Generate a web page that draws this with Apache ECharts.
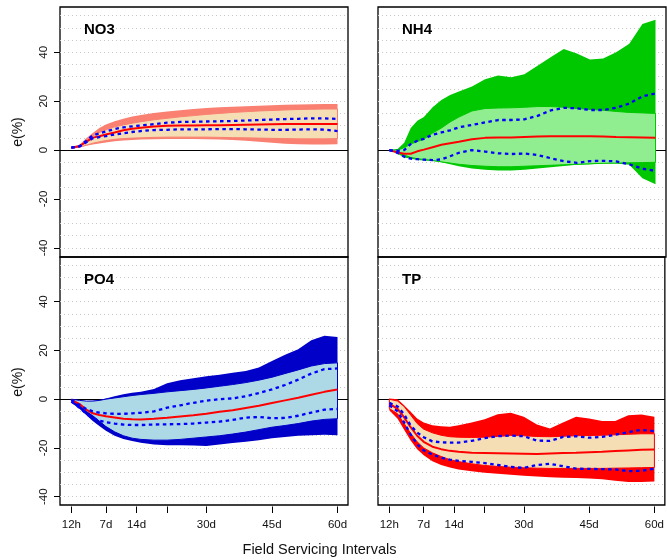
<!DOCTYPE html>
<html>
<head>
<meta charset="utf-8">
<script src="https://cdn.jsdelivr.net/npm/echarts@6/dist/echarts.min.js"></script>
<style>
html,body{margin:0;padding:0;background:#fff}
#chart{width:667px;height:560px}
</style>
</head>
<body>
<div id="chart"></div>
<script>
//----------------------------
//  data
//----------------------------
// sample positions in days; the "12h" point sits at -0.9 on this scale
var xs       = [-0.9, 1, 2.5, 4, 5.5, 7, 9, 11, 13, 15, 18, 21, 24, 27, 30, 33, 36, 39, 42, 45, 48, 51, 54, 57, 60];
var tickPos  = [-0.9, 7, 14, 21, 30, 45, 60];
var tickText = ['12h', '7d', '14d', '', '30d', '45d', '60d'];
var yLabels  = [-40, -20, 0, 20, 40];
var yGrid    = [-40, -35, -30, -25, -20, -15, -10, -5, 5, 10, 15, 20, 25, 30, 35, 40, 45, 50, 55];
var panelNames = ['NO3', 'NH4', 'PO4', 'TP'];

// NO3
var no3OuterHi = [1, 2.3, 4.8, 7, 9, 10.5, 11.8, 12.8, 13.7, 14.3, 15.2, 15.8, 16.3, 16.8, 17.2, 17.5, 17.7, 17.9, 18.1, 18.3, 18.5, 18.6, 18.7, 18.8, 18.8];
var no3InnerHi = [1, 1.8, 3.8, 5.8, 7.2, 8.3, 9.5, 10.3, 11, 11.6, 12.4, 13, 13.6, 14.1, 14.6, 15, 15.4, 15.7, 16, 16.2, 16.4, 16.6, 16.7, 16.8, 16.8];
var no3InnerLo = [0.7, 1.2, 2, 2.8, 3.4, 3.9, 4.4, 4.7, 4.9, 5, 5.2, 5.3, 5.3, 5.3, 5.3, 5.2, 5.1, 5, 4.9, 4.8, 4.7, 4.6, 4.6, 4.6, 4.7];
var no3OuterLo = [0.7, 1.2, 1.8, 2.3, 2.7, 3.1, 3.6, 3.9, 4.1, 4.3, 4.4, 4.5, 4.5, 4.5, 4.4, 4.3, 4.1, 3.8, 3.4, 3, 2.6, 2.4, 2.3, 2.3, 2.4];
var no3Median  = [1.1, 1.6, 3.4, 5.1, 5.7, 6.4, 7.2, 8.1, 8.7, 9.1, 9.6, 10, 10.1, 10.1, 10.2, 10.2, 10.3, 10.4, 10.5, 10.6, 10.7, 10.7, 10.7, 10.7, 10.7];
var no3QHi     = [1, 1.6, 3.8, 6, 6.8, 7.6, 8.6, 9.3, 9.7, 10.1, 10.6, 11.2, 11.5, 11.6, 11.7, 11.8, 11.9, 12.1, 12.3, 12.5, 12.7, 12.8, 13, 13, 12.7];
var no3QLo     = [1, 1.5, 3.2, 4.8, 5.3, 5.7, 6.4, 6.9, 7.4, 7.8, 8.2, 8.3, 8.5, 8.5, 8.5, 8.6, 8.6, 8.5, 8.4, 8.3, 8.3, 8.4, 8.5, 8.4, 7.8];

// NH4
var nh4OuterHi = [0, 0.5, 3, 9, 12, 13.5, 17.5, 20.5, 22.5, 24, 26, 29, 30.5, 29.8, 31, 34.5, 38, 41.3, 39.5, 37, 37.4, 40, 43.5, 51.5, 53.3];
var nh4InnerHi = [0, 0, 1, 2.5, 3.5, 4.5, 7, 9, 11.5, 13.5, 16, 17, 17.2, 17.3, 17.5, 17.8, 17.8, 17.5, 17, 16.6, 16.3, 15.8, 15.4, 15.2, 15];
var nh4InnerLo = [0, -1, -2, -3, -3.5, -3.8, -4.2, -4.8, -5.3, -5.8, -6.3, -6.6, -6.8, -6.8, -6.6, -6.4, -6.2, -6, -5.8, -5.6, -5.4, -5.3, -5.2, -5.1, -5];
var nh4OuterLo = [0, -1.5, -3, -3.5, -4, -4.2, -4.5, -5, -5.8, -6.6, -7.5, -8, -8.3, -8.3, -8, -7.5, -7, -6.5, -6, -5.8, -5.5, -5.5, -6, -11.5, -14];
var nh4Median  = [0, -1, -1.5, -1.5, -0.5, 0.2, 1.2, 2.2, 2.8, 3.4, 4.4, 5, 5.2, 5.2, 5.4, 5.6, 5.7, 5.7, 5.7, 5.7, 5.6, 5.4, 5.3, 5.2, 5.1];
var nh4QHi     = [0, -0.3, 0, 2.5, 3.8, 4.6, 6.3, 7.2, 8.1, 9.3, 10.3, 11.3, 12.3, 12.3, 12.6, 14, 16.2, 17.3, 17.1, 16.4, 16.4, 17.3, 19, 22, 23.2];
var nh4QLo     = [0, -1.2, -2.7, -3.5, -3.7, -3.9, -4.1, -3.8, -2.5, -1.1, 0, -0.6, -1.3, -1.6, -1.4, -2, -3.3, -4.5, -5.2, -4.5, -4.4, -4.6, -5.8, -7.6, -8.5];

// PO4
var po4OuterHi = [0, -0.5, -0.8, -0.7, -0.3, 0.3, 1.2, 2, 2.6, 3, 4.2, 6.5, 7.8, 8.6, 9.4, 10, 10.8, 11.5, 13, 15.7, 18.2, 20.5, 24.2, 26, 25.5];
var po4InnerHi = [0, -0.5, -0.8, -0.8, -0.5, 0, 0.5, 1, 1.5, 1.9, 2.4, 3, 3.5, 4, 4.6, 5.3, 6, 6.8, 7.8, 9, 10.5, 12, 13.6, 14.6, 14.9];
var po4InnerLo = [-0.5, -2.5, -5, -6.8, -9, -11.2, -13.4, -15, -16, -16.5, -16.8, -16.8, -16.5, -16, -15.5, -15, -14.3, -13.5, -12.5, -11.5, -10.8, -10, -9, -8.3, -8];
var po4OuterLo = [-1.5, -4, -6.5, -9, -11, -13, -15, -16.3, -17.2, -17.9, -18.6, -18.9, -18.9, -19, -19.2, -18.6, -18, -17.5, -16.8, -16, -15.5, -15, -14.8, -14.6, -14.8];
var po4Median  = [-0.3, -2, -4.3, -5.8, -6.5, -7, -7.5, -8, -8.2, -8.3, -8, -7.6, -7.1, -6.6, -6, -5.2, -4.5, -3.6, -2.7, -1.6, -0.5, 0.6, 1.8, 3, 4];
var po4QHi     = [-0.3, -2.5, -4, -5, -5.5, -5.8, -6, -6, -5.8, -5.6, -5, -3.5, -2.5, -1.5, -0.6, 0, 0.3, 1.2, 2.5, 4, 5.8, 8, 10.5, 12.3, 12.6];
var po4QLo     = [-1, -3.5, -6, -7.8, -8.8, -9.5, -10, -10.4, -10.6, -10.6, -10.4, -10.3, -10.2, -10, -9.6, -9.2, -8.5, -7.6, -7.3, -7.8, -7.7, -6.8, -5.5, -4.3, -4];

// TP
var tpOuterHi = [0.3, 0, -2.5, -5.2, -7.9, -9.6, -10.7, -11.1, -11.3, -10.7, -9.6, -8.2, -6.2, -5.6, -7.2, -10.4, -12, -9.6, -7.2, -7.9, -9, -9, -6.6, -6.3, -7.2];
var tpInnerHi = [0, -0.8, -3, -6.5, -10, -12.3, -13.8, -14.8, -15.4, -15.6, -15.7, -15.6, -15.3, -14.9, -15, -15.3, -15.4, -15.2, -15, -14.9, -14.8, -14.6, -14.4, -14.2, -14.2];
var tpInnerLo = [-3.8, -6, -10, -14, -17.5, -20, -22, -23.5, -24.8, -25.6, -26.5, -27.2, -27.6, -27.9, -28.1, -28.3, -28.4, -28.4, -28.4, -28.4, -28.4, -28.3, -28.2, -28.1, -28];
var tpOuterLo = [-4.5, -8, -12.5, -17, -20.5, -23, -25.5, -27, -28, -28.8, -29.6, -30.2, -30.6, -31, -31.4, -31.7, -32, -32.2, -32.3, -32.5, -32.8, -33.5, -34, -34, -33.8];
var tpMedian  = [-1.8, -4, -7.5, -11.5, -15, -17.5, -19.5, -20.5, -21.2, -21.6, -22, -22.1, -22.2, -22.3, -22.4, -22.5, -22.3, -22.1, -22, -21.8, -21.6, -21.3, -21, -20.7, -20.6];
var tpQHi     = [-1.5, -3, -6.2, -10.8, -13.7, -15.6, -17.3, -17.7, -17.8, -17.8, -17.1, -16, -15.2, -14.9, -15.2, -17, -17.1, -15.5, -15.2, -15.8, -15.5, -14.6, -13.5, -12.6, -13.1];
var tpQLo     = [-2.5, -5, -9.5, -14.5, -18.5, -21, -22.7, -24, -24.8, -25.3, -25.7, -26.2, -27, -27.8, -28.2, -27, -26.5, -27.5, -28.5, -28.6, -28.7, -28.8, -29.5, -29.4, -28.5];

//----------------------------
//  chart
//----------------------------
var FONT = '"Liberation Sans", Arial, Helvetica, sans-serif';

var panels = [
	{outer: '#FA8072', inner: '#F5DEB3', oLo: no3OuterLo, oHi: no3OuterHi, iLo: no3InnerLo, iHi: no3InnerHi, med: no3Median, qLo: no3QLo, qHi: no3QHi},
	{outer: '#00C800', inner: '#90EE90', oLo: nh4OuterLo, oHi: nh4OuterHi, iLo: nh4InnerLo, iHi: nh4InnerHi, med: nh4Median, qLo: nh4QLo, qHi: nh4QHi},
	{outer: '#0000C8', inner: '#ADD8E6', oLo: po4OuterLo, oHi: po4OuterHi, iLo: po4InnerLo, iHi: po4InnerHi, med: po4Median, qLo: po4QLo, qHi: po4QHi},
	{outer: '#FF0000', inner: '#F5DEB3', oLo: tpOuterLo, oHi: tpOuterHi, iLo: tpInnerLo, iHi: tpInnerHi, med: tpMedian, qLo: tpQLo, qHi: tpQHi}
];

var grids = [
	{left: 60,  top: 7,   width: 288, height: 250},
	{left: 378, top: 7,   width: 288, height: 250},
	{left: 60,  top: 257, width: 288, height: 248},
	{left: 378, top: 257, width: 288, height: 248}
];
var yRange = [[-43.7, 58.5], [-43.7, 58.5], [-43.4, 58.3], [-43.4, 58.3]];

var labelPos = tickPos.filter(function (v, k) { return tickText[k] !== ''; });

function tickName(v) {
	for (var k = 0; k < tickPos.length; k++) {
		if (Math.abs(tickPos[k] - v) < 1e-6) return tickText[k];
	}
	return '';
}

// filled band between lo and hi, drawn once as a polygon
function bandSeries(gi, lo, hi, color, edge, z) {
	return {
		type: 'custom', xAxisIndex: gi, yAxisIndex: gi * 3, z: z, silent: true,
		data: xs.map(function (x, i) { return [x, lo[i], hi[i]]; }),
		encode: {x: 0, y: [1, 2]},
		renderItem: function (params, api) {
			if (params.dataIndex !== 0) return;
			var pts = [], i;
			for (i = 0; i < xs.length; i++) pts.push(api.coord([xs[i], hi[i]]));
			for (i = xs.length - 1; i >= 0; i--) pts.push(api.coord([xs[i], lo[i]]));
			return {type: 'polygon', shape: {points: pts},
				style: {fill: color, stroke: edge || null, lineWidth: edge ? 1 : 0}};
		}
	};
}

function lineSeries(gi, vals, color, width, dash, z) {
	return {
		type: 'line', xAxisIndex: gi, yAxisIndex: gi * 3, z: z, silent: true,
		showSymbol: false, animation: false,
		data: xs.map(function (x, i) { return [x, vals[i]]; }),
		lineStyle: {color: color, width: width, type: dash}
	};
}

var xAxes = [], yAxes = [], series = [], graphics = [];

for (var gi = 0; gi < 4; gi++) {
	var bottom = gi >= 2, left = gi % 2 === 0;
	var p = panels[gi];

	xAxes.push({
		type: 'value', gridIndex: gi, min: -3.5, max: 62.4, offset: 1.5, position: 'bottom',
		axisLine: {show: false, onZero: false}, splitLine: {show: false},
		axisTick: {show: bottom, length: 6.5, customValues: tickPos, lineStyle: {color: '#000', width: 1}},
		axisLabel: {show: bottom, customValues: labelPos, margin: 12, fontSize: 11.5, color: '#111', fontFamily: FONT, formatter: tickName}
	});

	// labelled axis
	yAxes.push({
		type: 'value', gridIndex: gi, min: yRange[gi][0], max: yRange[gi][1], position: 'left',
		axisLine: {show: false, onZero: false}, splitLine: {show: false},
		axisTick: {show: left, length: 6, customValues: yLabels, lineStyle: {color: '#000', width: 1}},
		axisLabel: {show: left, customValues: yLabels, rotate: 90, margin: 10, fontSize: 11.5, color: '#111', fontFamily: FONT}
	});
	// dotted grid every 5
	yAxes.push({
		type: 'value', gridIndex: gi, min: yRange[gi][0], max: yRange[gi][1], position: 'left',
		axisLine: {show: false, onZero: false}, axisLabel: {show: false},
		axisTick: {show: false, customValues: yGrid},
		splitLine: {show: true, lineStyle: {color: '#c8c8c8', width: 1, type: [1, 3]}}
	});
	// zero line
	yAxes.push({
		type: 'value', gridIndex: gi, min: yRange[gi][0], max: yRange[gi][1], position: 'left',
		axisLine: {show: false, onZero: false}, axisLabel: {show: false},
		axisTick: {show: false, customValues: [0]},
		splitLine: {show: true, lineStyle: {color: '#000', width: 1, type: 'solid'}}
	});

	series.push(bandSeries(gi, p.oLo, p.oHi, p.outer, null, 2));
	series.push(bandSeries(gi, p.iLo, p.iHi, p.inner, p.outer, 3));
	series.push(lineSeries(gi, p.med, '#FF0000', 2, 'solid', 4));
	series.push(lineSeries(gi, p.qLo, '#0000FF', 2.3, [3.5, 3.5], 5));
	series.push(lineSeries(gi, p.qHi, '#0000FF', 2.3, [3.5, 3.5], 5));

	graphics.push({
		type: 'text', x: grids[gi].left + 24, y: grids[gi].top + 22.5, z: 10,
		style: {text: panelNames[gi], font: 'bold 15px ' + FONT, fill: '#000', align: 'left', verticalAlign: 'middle'}
	});
}

graphics.push({type: 'text', x: 18.5, y: 132, rotation: Math.PI / 2,
	style: {text: 'e(%)', font: '14px ' + FONT, fill: '#111', align: 'center', verticalAlign: 'middle'}});
graphics.push({type: 'text', x: 18.5, y: 382, rotation: Math.PI / 2,
	style: {text: 'e(%)', font: '14px ' + FONT, fill: '#111', align: 'center', verticalAlign: 'middle'}});
graphics.push({type: 'text', x: 319.5, y: 550,
	style: {text: 'Field Servicing Intervals', font: '14.5px ' + FONT, fill: '#111', align: 'center', verticalAlign: 'middle'}});

var option = {
	animation: false,
	backgroundColor: '#fff',
	grid: grids.map(function (g) {
		return {left: g.left, top: g.top, width: g.width, height: g.height, containLabel: false,
			show: true, borderColor: '#000', borderWidth: 1.3, backgroundColor: 'transparent'};
	}),
	xAxis: xAxes,
	yAxis: yAxes,
	series: series,
	graphic: graphics
};

var myChart = echarts.init(document.getElementById('chart'));
myChart.setOption(option);
</script>
</body>
</html>
